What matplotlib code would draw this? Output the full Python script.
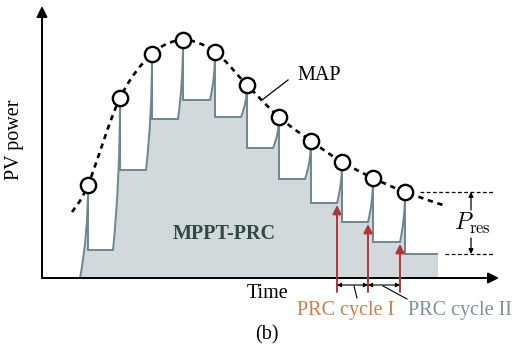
import numpy as np
import matplotlib
matplotlib.use("Agg")
from matplotlib import pyplot as plt
from matplotlib.path import Path
from matplotlib.patches import PathPatch

plt.rcParams['font.family'] = ['Liberation Serif', 'DejaVu Serif']
plt.rcParams['mathtext.fontset'] = 'cm'

# MAP points (circles): time and power
circ_t = [46, 78, 110, 141, 173, 205, 237, 269, 300, 331, 363]
circ_p = [93, 180, 224, 238, 226, 193, 161, 137, 116, 100, 86]
# level after each perturbation and the time where each flat part ends
level_p = [28, 108, 159, 178, 161, 130, 99, 75, 56, 36, 24]
flat_end_t = [71, 104, 136, 168, 199, 231, 263, 295, 326, 358, 396]
start_t = 38

# dashed MAP curve (ends + circles)
map_t = [30] + circ_t + [404]
map_p = [66] + circ_p + [72]

# PRC cycle markers
red_t = [295, 326, 358]
red_tip = [73, 54, 34]

LINE = '#6c8790'
FILL = '#d1d9dc'
RED = '#b5343a'

fig = plt.figure(figsize=(5.24, 3.48), dpi=100)
ax = fig.add_axes([0, 0, 1, 1])
ax.set_xlim(-42, 482)
ax.set_ylim(-70, 278)
ax.axis('off')

# operating power waveform
verts = [(start_t, 0), (circ_t[0], circ_p[0] * 0.45), (circ_t[0], circ_p[0])]
codes = [Path.MOVETO, Path.CURVE3, Path.CURVE3]
for k in range(len(circ_t)):
    verts += [(circ_t[k], level_p[k]), (flat_end_t[k], level_p[k])]
    codes += [Path.LINETO, Path.LINETO]
    if k < len(circ_t) - 1:
        mid = level_p[k] + 0.45 * (circ_p[k + 1] - level_p[k])
        verts += [(circ_t[k + 1], mid), (circ_t[k + 1], circ_p[k + 1])]
        codes += [Path.CURVE3, Path.CURVE3]

fill_path = Path(verts + [(flat_end_t[-1], 0), (start_t, 0)],
                 codes + [Path.LINETO, Path.LINETO])
ax.add_patch(PathPatch(fill_path, facecolor=FILL, edgecolor='none', zorder=1))
ax.add_patch(PathPatch(Path(verts, codes), facecolor='none', edgecolor=LINE,
                       lw=1.4, zorder=2))

# smooth dashed MAP curve (Catmull-Rom as cubic bezier)
pts = np.column_stack([map_t, map_p]).astype(float)
mv = [tuple(pts[0])]
mc = [Path.MOVETO]
for i in range(len(pts) - 1):
    p0 = pts[max(i - 1, 0)]
    p1 = pts[i]
    p2 = pts[i + 1]
    p3 = pts[min(i + 2, len(pts) - 1)]
    mv += [tuple(p1 + (p2 - p0) / 6), tuple(p2 - (p3 - p1) / 6), tuple(p2)]
    mc += [Path.CURVE4] * 3
ax.add_patch(PathPatch(Path(mv, mc), facecolor='none', edgecolor='black',
                       lw=1.9, linestyle=(0, (2.0, 1.8)), zorder=3))
ax.plot(circ_t, circ_p, 'o', ms=11, mfc='white', mec='black', mew=1.7, zorder=4)

# axes
ax.annotate('', xy=(0, 272), xytext=(0, 0),
            arrowprops=dict(arrowstyle='-|>', color='black', lw=1.4,
                            mutation_scale=16, shrinkA=0, shrinkB=0), zorder=5)
ax.annotate('', xy=(457, 0), xytext=(0, 0),
            arrowprops=dict(arrowstyle='-|>', color='black', lw=1.4,
                            mutation_scale=16, shrinkA=0, shrinkB=0), zorder=5)

# red arrows
for t, tip in zip(red_t, red_tip):
    ax.annotate('', xy=(t, tip), xytext=(t, -14),
                arrowprops=dict(arrowstyle='-|>', color=RED, lw=1.4,
                                mutation_scale=13, shrinkA=0, shrinkB=0), zorder=5)

# cycle width arrows
for a, b in zip(red_t[:-1], red_t[1:]):
    ax.annotate('', xy=(b, -7), xytext=(a, -7),
                arrowprops=dict(arrowstyle='<|-|>', color='black', lw=0.8,
                                mutation_scale=6, shrinkA=0, shrinkB=0), zorder=5)
ax.plot([312, 315], [-8, -20], color='black', lw=0.8)
ax.plot([341, 365], [-8, -21], color='black', lw=0.8)

# MAP label
ax.plot([220, 246], [178, 198], color='black', lw=0.9)
ax.text(255, 202, 'MAP', fontsize=14.5, ha='left', va='center')

# P_res
ax.plot([378, 451], [86, 86], color='black', lw=0.9, linestyle=(0, (3, 2)))
ax.plot([403, 451], [24, 24], color='black', lw=0.9, linestyle=(0, (3, 2)))
ax.annotate('', xy=(429, 86), xytext=(429, 68),
            arrowprops=dict(arrowstyle='-|>', color='black', lw=0.9,
                            mutation_scale=7, shrinkA=0, shrinkB=0))
ax.annotate('', xy=(429, 24), xytext=(429, 40),
            arrowprops=dict(arrowstyle='-|>', color='black', lw=0.9,
                            mutation_scale=7, shrinkA=0, shrinkB=0))
ax.text(430, 55, r'$P_{\rm res}$', fontsize=17, ha='center', va='center')

ax.text(182, 44, 'MPPT-PRC', fontsize=14.5, fontweight='bold', color='#2e4a44',
        ha='center', va='center')
ax.text(-27, 138, 'PV power', fontsize=14.5, rotation=90, ha='center', va='center')
ax.text(205, -16, 'Time', fontsize=14.5, ha='left', va='center')
ax.text(255, -32, 'PRC cycle I', fontsize=14.5, color='#cf7d4a', ha='left', va='center')
ax.text(366, -32, 'PRC cycle II', fontsize=14.5, color='#7a9298', ha='left', va='center')
ax.text(225, -57, '(b)', fontsize=14.5, ha='center', va='center')

fig.savefig('out.png', dpi=100)
